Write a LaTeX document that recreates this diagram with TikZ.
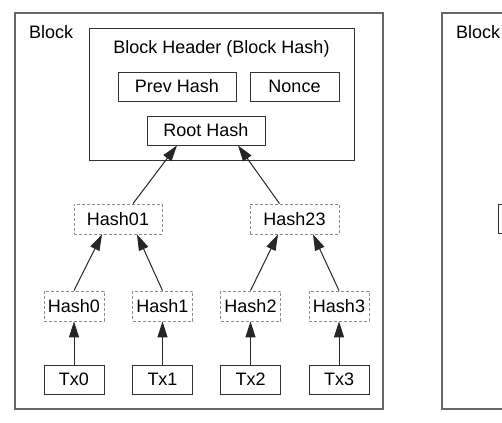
\documentclass[tikz,border=0pt]{standalone}
\usepackage{fontspec}
\setmainfont{Liberation Sans}
\usetikzlibrary{arrows.meta}

\begin{document}
\begin{tikzpicture}[x=1pt, y=-1pt,
	font=\fontsize{18}{21}\selectfont,
	frame/.style={draw=black!60, line width=1.4pt},
	box/.style={draw=black!80, line width=0.9pt, minimum height=29pt, inner sep=0pt},
	hashbox/.style={draw=black!45, dash pattern=on 3pt off 2pt, line width=0.8pt, minimum width=60pt, minimum height=30pt, inner sep=0pt},
	link/.style={-{Triangle[length=16pt,width=10pt]}, line width=1pt, black!85}]
	\fill[white] (0,0) rectangle (502,422);
	\useasboundingbox (0,0) rectangle (502,422);
	\clip (0,0) rectangle (502,422);
	% blocks
	\draw[frame] (15,13) rectangle (383,409);
	\draw[frame] (442,13) rectangle (540,409);
	\node[anchor=base west, inner sep=0pt] (blocklabel) at (29,39) {Block};
	\node[anchor=base west, inner sep=0pt] (nextlabel) at (456,39) {Block};
	\node[box, anchor=north west, minimum width=60pt] (nextbox) at (498,204) {};
	% header
	\node[box, minimum width=265pt, minimum height=132pt] (header) at (221.5,94) {};
	\node[anchor=base, inner sep=0pt] (headerlabel) at (221.5,54) {Block Header (Block Hash)};
	\node[box, minimum width=118pt] (prev) at (177,86.5) {Prev Hash};
	\node[box, minimum width=89pt] (nonce) at (294.5,86.5) {Nonce};
	\node[box, minimum width=118pt] (root) at (206,130.5) {Root Hash};
	% tree
	\node[hashbox, minimum width=88pt] (h01) at (118,219) {Hash01};
	\node[hashbox, minimum width=89pt] (h23) at (294.5,219) {Hash23};
	\node[hashbox] (h0) at (74,306) {Hash0};
	\node[hashbox] (h1) at (162.5,306) {Hash1};
	\node[hashbox] (h2) at (250.5,306) {Hash2};
	\node[hashbox] (h3) at (339,306) {Hash3};
	\node[box, minimum width=60pt] (tx0) at (74,379.5) {Tx0};
	\node[box, minimum width=60pt] (tx1) at (162.5,379.5) {Tx1};
	\node[box, minimum width=60pt] (tx2) at (250.5,379.5) {Tx2};
	\node[box, minimum width=60pt] (tx3) at (339,379.5) {Tx3};
	\draw[link] ([xshift=15pt]h01.north) -- ([xshift=-29pt]root.south);
	\draw[link] ([xshift=-15pt]h23.north) -- ([xshift=32pt]root.south);
	\draw[link] (h0.north) -- ([xshift=-16pt]h01.south);
	\draw[link] (h1.north) -- ([xshift=19pt]h01.south);
	\draw[link] (h2.north) -- ([xshift=-16.5pt]h23.south);
	\draw[link] (h3.north) -- ([xshift=18.5pt]h23.south);
	\draw[link] (tx0) -- (h0);
	\draw[link] (tx1) -- (h1);
	\draw[link] (tx2) -- (h2);
	\draw[link] (tx3) -- (h3);
\end{tikzpicture}
\end{document}
